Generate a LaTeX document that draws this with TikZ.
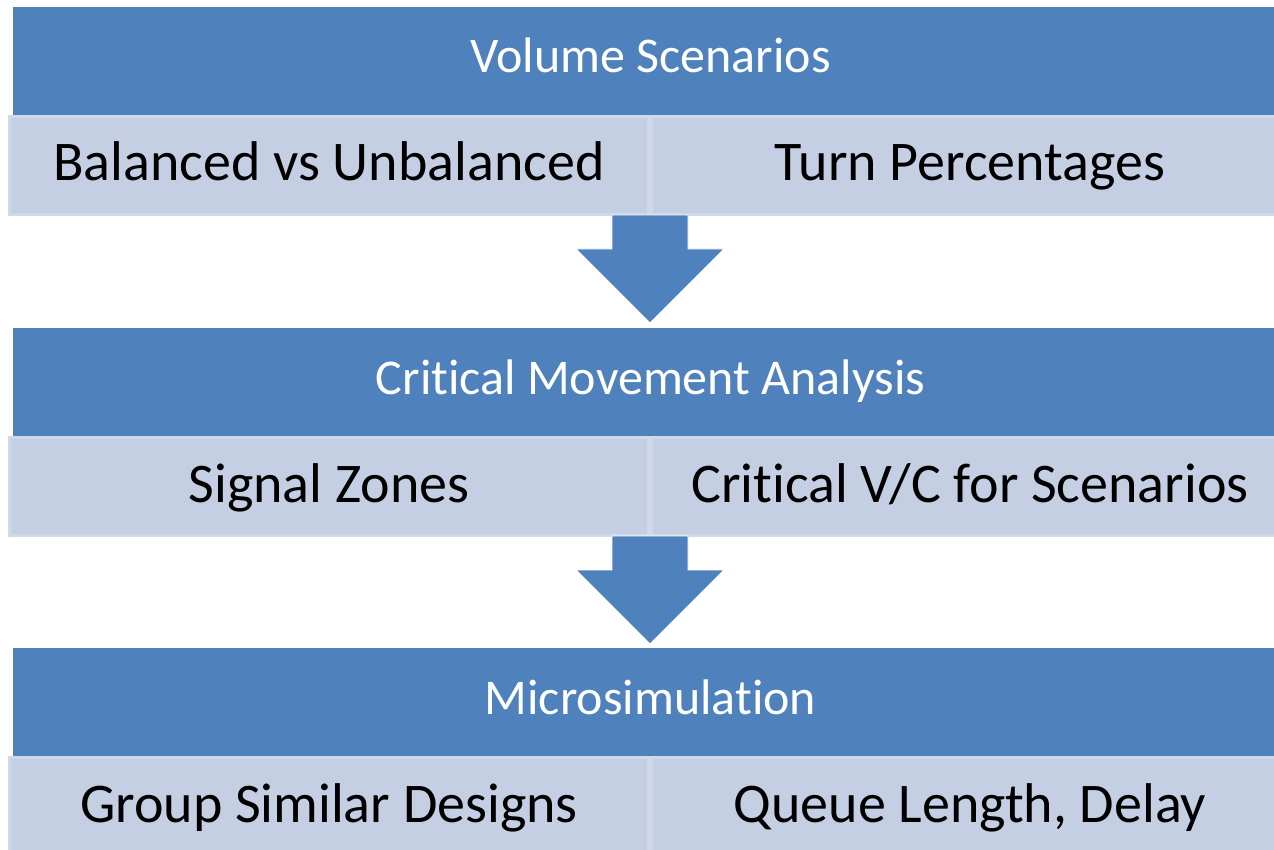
\documentclass[tikz,border=0pt]{standalone}
\usepackage{fontspec}
\setmainfont[Ligatures={NoCommon}]{Carlito}
\definecolor{barblue}{RGB}{79,129,189}
\definecolor{subfill}{RGB}{196,207,227}
\definecolor{subline}{RGB}{208,217,233}
\tikzset{
  headbar/.style={fill=barblue, draw=none, inner sep=0pt, minimum width=1275pt, minimum height=108pt},
  headtext/.style={text=white, font=\fontsize{50}{60}\selectfont, anchor=base, inner sep=0pt},
  subbox/.style={fill=subfill, draw=subline, line width=3pt, inner sep=0pt, minimum height=98pt},
  subtext/.style={text=black, font=\fontsize{56}{66}\selectfont, anchor=base, inner sep=0pt},
  downarrow/.style={fill=barblue, draw=white, line width=0.8pt, line join=miter}
}
\begin{document}
\begin{tikzpicture}[x=1pt, y=-1pt]
  \useasboundingbox (0,0) rectangle (1274,850);
  \clip (0,0) rectangle (1274,850);
  \fill[white] (0,0) rectangle (1274,850);

  % three stages: a header bar over two detail boxes
  \foreach \k/\dy/\head/\left/\right in {
      1/0/Volume Scenarios/Balanced vs Unbalanced/Turn Percentages,
      2/321/Critical Movement Analysis/Signal Zones/Critical V\slash C for Scenarios,
      3/641/Microsimulation/Group Similar Designs/{Queue Length, Delay}} {
    \node[subbox, minimum width=639pt] (l\k) at (329, 165.5+\dy) {};
    \node[subbox, minimum width=637pt] (r\k) at (970, 165.5+\dy) {};
    \node[headbar] (h\k) at (650.5, 61+\dy) {};
    \node[headtext] (ht\k) at (650.5, 73+\dy) {\head};
    \node[subtext] (lt\k) at (329, 181+\dy) {\left};
    \node[subtext] (rt\k) at (970, 181+\dy) {\right};
  }

  % block arrows between stages
  \foreach \dy in {0,321} {
    \coordinate (tip) at (650, 323+\dy);
    \draw[downarrow] (612,215+\dy) -- (688,215+\dy) -- (688,249+\dy) -- (724,249+\dy)
      -- (tip) -- (576,249+\dy) -- (612,249+\dy) -- cycle;
  }
\end{tikzpicture}
\end{document}
